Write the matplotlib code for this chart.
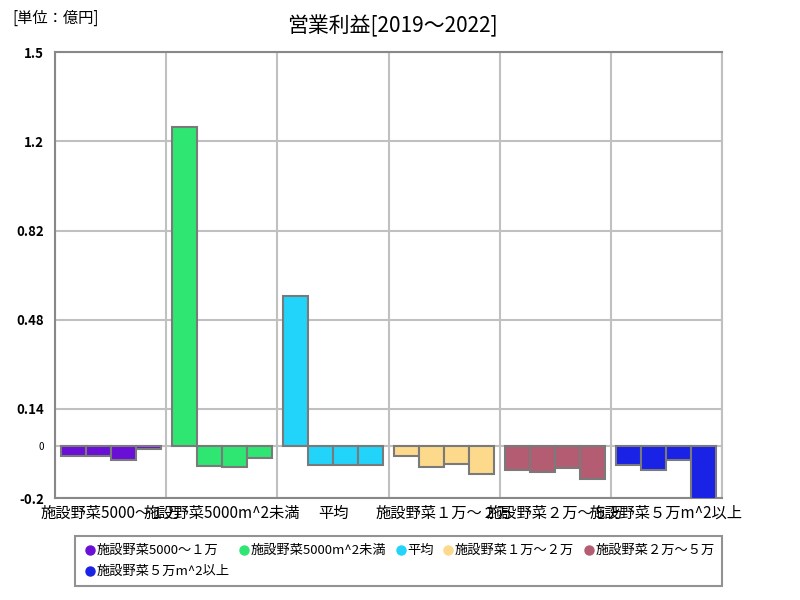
import matplotlib
matplotlib.use("Agg")
import matplotlib.pyplot as plt
import numpy as np
from matplotlib.lines import Line2D

plt.rcParams['font.family'] = ['Noto Sans CJK JP', 'DejaVu Sans']

categories = ["施設野菜5000～１万", "施設野菜5000m^2未満", "平均",
              "施設野菜１万～２万", "施設野菜２万～５万", "施設野菜５万m^2以上"]
years = ["2019", "2020", "2021", "2022"]
values = [
    [-0.038, -0.038, -0.055, -0.015],
    [1.216, -0.078, -0.082, -0.048],
    [0.571, -0.073, -0.073, -0.073],
    [-0.040, -0.080, -0.072, -0.110],
    [-0.095, -0.099, -0.087, -0.128],
    [-0.074, -0.092, -0.054, -0.205],
]
colors = ["#6a0fd6", "#2fe673", "#22d3fa", "#fdd98c", "#b45c72", "#1a22e6"]
ytick_vals = [-0.2, 0, 0.14, 0.48, 0.82, 1.16, 1.5]
ytick_labels = ["-0.2", "0", "0.14", "0.48", "0.82", "1.2", "1.5"]

fig = plt.figure(figsize=(8, 6), dpi=100)
ax = fig.add_axes([0.069, 0.17, 0.8335, 0.743])

bw = 0.225
for i, (cat, vals, c) in enumerate(zip(categories, values, colors)):
    for k, v in enumerate(vals):
        x = i + 0.05 + k * bw + bw / 2
        ax.bar(x, v, width=bw, color=c, edgecolor="#7a7a7a", linewidth=1.5, zorder=3)

ax.set_xlim(0, 6)
ax.set_ylim(-0.2, 1.5)
ax.set_xticks(np.arange(6) + 0.5)
ax.set_xticklabels(categories, fontsize=11)
ax.set_xticks(np.arange(7), minor=True)
ax.tick_params(axis='x', which='both', length=0, pad=5)
ax.grid(True, axis='x', which='minor', color="#c0c0c0", linewidth=1.5, zorder=0)
ax.set_yticks(ytick_vals)
ax.set_yticklabels(ytick_labels, fontsize=9.5, fontweight='bold')
for lab in ax.get_yticklabels():
    if lab.get_text() == "0":
        lab.set_fontsize(7)
        lab.set_fontweight('normal')
ax.tick_params(axis='y', length=0, pad=8)
ax.grid(True, axis='y', color="#c0c0c0", linewidth=1.5, zorder=0)
for s in ax.spines.values():
    s.set_color("#c0c0c0")
    s.set_linewidth(1.5)
ax.spines['left'].set_color("#888888")
ax.spines['bottom'].set_color("#888888")
ax.spines['top'].set_color("#888888")

fig.text(0.49, 0.957, "営業利益[2019～2022]", ha='center', va='center', fontsize=15)
fig.text(0.015, 0.97, "[単位：億円]", ha='left', va='center', fontsize=11)

order = [0, 5, 1, 2, 3, 4]
handles = [Line2D([0], [0], marker='o', linestyle='', markersize=6.5,
                  markerfacecolor=colors[j], markeredgecolor=colors[j]) for j in order]
labels = [categories[j] for j in order]
leg = fig.legend(handles, labels, loc='upper left',
                 bbox_to_anchor=(0.094, 0.106), ncol=5, borderaxespad=0,
                 fontsize=9.5, frameon=True, fancybox=False, edgecolor="#777777",
                 handletextpad=0.0, columnspacing=0.6, borderpad=0.6,
                 handlelength=1.0, labelspacing=0.6)
leg.get_frame().set_linewidth(1.5)

fig.savefig("out.png", dpi=100)
